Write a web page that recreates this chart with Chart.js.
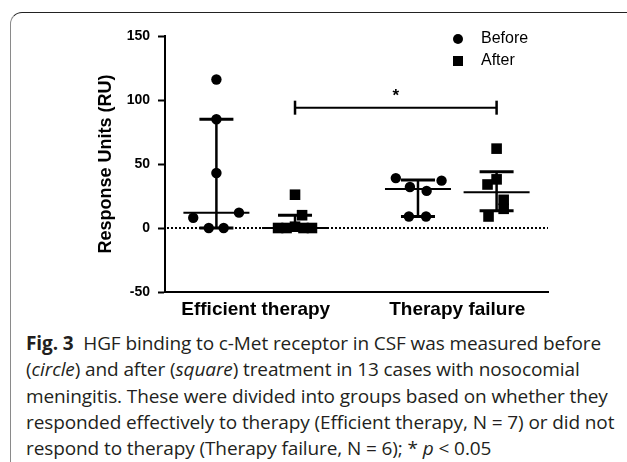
<!DOCTYPE html>
<html>
<head>
<meta charset="utf-8">
<script src="https://cdn.jsdelivr.net/npm/chart.js"></script>
<style>
    html, body { margin: 0; padding: 0; background: #fff; }
    body { width: 627px; height: 462px; position: relative; overflow: hidden; }
    #frame {
        position: absolute; left: 10px; top: 12px; width: 700px; height: 500px;
        border-top: 1px solid #222; border-left: 1.5px solid #8a8a8a;
        border-top-left-radius: 12px;
    }
    #chart { position: absolute; left: 0; top: 0; }
    #caption {
        position: absolute; left: 26px; top: 330px;
        font-family: "Open Sans", Lato, sans-serif; font-size: 19px; line-height: 26.3px;
        letter-spacing: -0.1px; color: #231f20; white-space: nowrap;
    }
</style>
</head>
<body>
<div id="frame"></div>
<canvas id="chart" width="627" height="325"></canvas>
<div id="caption">
    <div><b>Fig. 3</b>&nbsp; HGF binding to c-Met receptor in CSF was measured before</div>
    <div>(<i>circle</i>) and after (<i>square</i>) treatment in 13 cases with nosocomial</div>
    <div>meningitis. These were divided into groups based on whether they</div>
    <div>responded effectively to therapy (Efficient therapy, N = 7) or did not</div>
    <div>respond to therapy (Therapy failure, N = 6); * <i>p</i> &lt; 0.05</div>
</div>
<script>
const categories = ["Efficient therapy", "Therapy failure"];
const seriesNames = ["Before", "After"];
const yTicks = [-50, 0, 50, 100, 150];

// response units per patient
const efficientBefore = [116, 85, 43, 8, 12, 0, 0];
const efficientAfter = [26, 10, 0, 0, 1, 0, 0];
const failureBefore = [39, 37, 32, 29, 9, 9];
const failureAfter = [62, 38, 34, 22, 15, 9];

// how far each dot sits from the middle of its column (x axis units)
const efficientBeforeJitter = [0, 0, 0, -0.115, 0.112, -0.038, 0.036];
const efficientAfterJitter = [0, 0.035, -0.084, -0.042, 0, 0.042, 0.084];
const failureBeforeJitter = [-0.11, 0.117, -0.04, 0.043, -0.045, 0.04];
const failureAfterJitter = [0, 0, -0.045, 0.035, 0.035, -0.04];

// significance bracket between the two "after" columns
const sigLevel = 94;
const sigText = "*";

const sideOffset = 0.195;
const font = '"Liberation Sans", Arial, Helvetica, sans-serif';

const columns = [
    { values: efficientBefore, jitter: efficientBeforeJitter, group: 0, series: 0 },
    { values: efficientAfter, jitter: efficientAfterJitter, group: 0, series: 1 },
    { values: failureBefore, jitter: failureBeforeJitter, group: 1, series: 0 },
    { values: failureAfter, jitter: failureAfterJitter, group: 1, series: 1 },
];
columns.forEach(c => { c.x = c.group + (c.series === 0 ? -sideOffset : sideOffset); });

// Prism style quantile: position (n + 1) * p
function quantile(values, p) {
    const s = [...values].sort((a, b) => a - b);
    const pos = (s.length + 1) * p;
    const lo = Math.min(Math.max(Math.floor(pos), 1), s.length);
    const hi = Math.min(Math.max(Math.ceil(pos), 1), s.length);
    return s[lo - 1] + (s[hi - 1] - s[lo - 1]) * (pos - Math.floor(pos));
}

function pointsFor(series) {
    const pts = [];
    columns.filter(c => c.series === series).forEach(c => {
        c.values.forEach((v, i) => pts.push({ x: c.x + c.jitter[i], y: v }));
    });
    return pts;
}

function line(ctx, x1, y1, x2, y2, w) {
    ctx.lineWidth = w;
    ctx.beginPath();
    ctx.moveTo(x1, y1);
    ctx.lineTo(x2, y2);
    ctx.stroke();
}

const zeroLine = {
    id: "zeroLine",
    beforeDatasetsDraw(chart) {
        const { ctx, chartArea, scales } = chart;
        const y = scales.y.getPixelForValue(0);
        ctx.save();
        ctx.strokeStyle = "#000";
        ctx.setLineDash([2, 2]);
        line(ctx, chartArea.left + 2, y, chartArea.right, y, 2);
        ctx.restore();
    }
};

const summaryLines = {
    id: "summaryLines",
    afterDatasetsDraw(chart) {
        const { ctx, scales } = chart;
        const sx = scales.x, sy = scales.y;
        ctx.save();
        ctx.strokeStyle = "#000";
        columns.forEach(c => {
            const x = sx.getPixelForValue(c.x);
            const med = sy.getPixelForValue(quantile(c.values, 0.5));
            const q1 = sy.getPixelForValue(quantile(c.values, 0.25));
            const q3 = sy.getPixelForValue(quantile(c.values, 0.75));
            line(ctx, x, q1, x, q3, 2.5);
            line(ctx, x - 17, q1, x + 17, q1, 3);
            line(ctx, x - 17, q3, x + 17, q3, 3);
            line(ctx, x - 33, med, x + 33, med, 2);
        });

        // bracket
        const x1 = sx.getPixelForValue(columns[1].x);
        const x2 = sx.getPixelForValue(columns[3].x);
        const yb = sy.getPixelForValue(sigLevel);
        line(ctx, x1, yb, x2, yb, 2);
        line(ctx, x1, yb - 7, x1, yb + 7, 2.5);
        line(ctx, x2, yb - 7, x2, yb + 7, 2.5);
        ctx.fillStyle = "#000";
        ctx.font = "bold 17px " + font;
        ctx.textAlign = "center";
        ctx.textBaseline = "middle";
        ctx.fillText(sigText, (x1 + x2) / 2, yb - 11);
        ctx.restore();
    }
};

const legendBox = {
    id: "legendBox",
    afterDraw(chart) {
        const { ctx, chartArea } = chart;
        const x = chartArea.right - 90;
        ctx.save();
        ctx.fillStyle = "#000";
        ctx.font = "16px " + font;
        ctx.textBaseline = "middle";
        ctx.textAlign = "left";
        seriesNames.forEach((name, i) => {
            const y = chartArea.top + 3 + i * 22;
            if (i === 0) {
                ctx.beginPath();
                ctx.arc(x, y, 5, 0, Math.PI * 2);
                ctx.fill();
            } else {
                ctx.fillRect(x - 5, y - 5, 10, 10);
            }
            ctx.fillText(name, x + 23, y);
        });
        ctx.restore();
    }
};

new Chart(document.getElementById("chart"), {
    type: "scatter",
    data: {
        datasets: [
            {
                label: seriesNames[0],
                data: pointsFor(0),
                pointStyle: "circle",
                pointRadius: 5.2,
                backgroundColor: "#000",
                borderWidth: 0,
            },
            {
                label: seriesNames[1],
                data: pointsFor(1),
                pointStyle: "rect",
                pointRadius: 7.5,
                backgroundColor: "#000",
                borderWidth: 0,
            }
        ]
    },
    options: {
        responsive: false,
        animation: false,
        events: [],
        layout: { padding: { left: 90, right: 79, top: 36, bottom: 0 } },
        plugins: {
            legend: { display: false },
            tooltip: { enabled: false }
        },
        scales: {
            x: {
                type: "linear",
                min: -0.45,
                max: 1.45,
                afterBuildTicks: axis => { axis.ticks = categories.map((_, i) => ({ value: i })); },
                afterFit: axis => { axis.height = 33; },
                ticks: {
                    callback: v => categories[v],
                    color: "#000",
                    padding: 6,
                    font: { family: font, size: 19, weight: "bold" }
                },
                grid: { display: false, drawTicks: false },
                border: { display: true, color: "#000", width: 2 }
            },
            y: {
                min: -50,
                max: 150,
                afterBuildTicks: axis => { axis.ticks = yTicks.map(v => ({ value: v })); },
                afterFit: axis => { axis.width = 75; },
                ticks: {
                    color: "#000",
                    padding: 8,
                    font: { family: font, size: 14, weight: "bold" }
                },
                grid: { drawOnChartArea: false, tickLength: 7, tickWidth: 2, color: "#000" },
                border: { display: true, color: "#000", width: 2 },
                title: {
                    display: true,
                    text: "Response Units (RU)",
                    color: "#000",
                    padding: { top: 5, bottom: 0 },
                    font: { family: font, size: 18, weight: "bold" }
                }
            }
        }
    },
    plugins: [zeroLine, summaryLines, legendBox]
});
</script>
</body>
</html>
